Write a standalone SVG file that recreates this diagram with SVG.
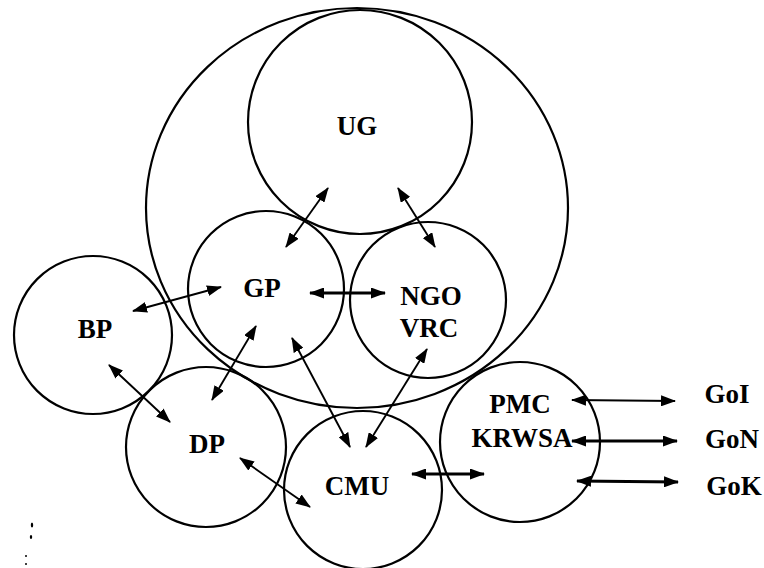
<svg xmlns="http://www.w3.org/2000/svg" width="764" height="568" viewBox="0 0 764 568">
<style>
.c{fill:none;stroke:#000;stroke-width:2.2}
.t{font-family:'Liberation Serif','Times New Roman',serif;font-weight:bold;font-size:27px;fill:#000;text-anchor:middle}
.a{stroke:#000;stroke-width:1.9;fill:none;marker-start:url(#ah);marker-end:url(#ah)}
.k{stroke-width:3}
</style>
<defs>
<marker id="ah" viewBox="0 0 15 11" refX="14" refY="5.5" markerWidth="15" markerHeight="11" markerUnits="userSpaceOnUse" orient="auto-start-reverse">
<path d="M0,0 L15,5.5 L0,11 z" fill="#000"/>
</marker>
</defs>
<rect width="764" height="568" fill="#fff"/>
<g id="outer"><ellipse class="c" cx="357" cy="208" rx="211" ry="200"/></g>
<g id="UG"><circle class="c" cx="360" cy="122" r="112"/><text class="t" x="357" y="135">UG</text></g>
<g id="GP"><circle class="c" cx="266" cy="289" r="78"/><text class="t" x="262" y="297">GP</text></g>
<g id="NGO"><circle class="c" cx="428" cy="300" r="78"/><text class="t" x="431" y="305">NGO</text><text class="t" x="429" y="337">VRC</text></g>
<g id="BP"><circle class="c" cx="93" cy="335" r="79"/><text class="t" x="95" y="338">BP</text></g>
<g id="DP"><circle class="c" cx="206" cy="447" r="80"/><text class="t" x="207" y="453">DP</text></g>
<g id="CMU"><circle class="c" cx="363" cy="490" r="79"/><text class="t" x="357" y="495">CMU</text></g>
<g id="PMC"><circle class="c" cx="520" cy="442" r="80"/><text class="t" x="520" y="413">PMC</text><text class="t" x="522" y="447">KRWSA</text></g>
<g id="GoI"><text class="t" x="727" y="403">GoI</text></g>
<g id="GoN"><text class="t" x="732" y="448">GoN</text></g>
<g id="GoK"><text class="t" x="734" y="495">GoK</text></g>
<g id="connectors">
<line class="a" x1="328" y1="188" x2="286" y2="247"/>
<line class="a" x1="398" y1="188" x2="435" y2="247"/>
<line class="a k" x1="310" y1="293" x2="385" y2="293"/>
<line class="a" x1="133" y1="311" x2="221" y2="287"/>
<line class="a" x1="256" y1="326" x2="212" y2="400"/>
<line class="a" x1="109" y1="365" x2="170" y2="422"/>
<line class="a" x1="292" y1="338" x2="350" y2="447"/>
<line class="a" x1="427" y1="349" x2="366" y2="447"/>
<line class="a" x1="240" y1="458" x2="310" y2="507"/>
<line class="a k" x1="412" y1="474" x2="484" y2="474"/>
<line class="a" x1="572" y1="400" x2="675" y2="401"/>
<line class="a k" x1="572" y1="441" x2="677" y2="441"/>
<line class="a k" x1="577" y1="481" x2="678" y2="482"/>
</g>
<g id="specks" fill="#000">
<ellipse cx="32" cy="525" rx="1.2" ry="2.5"/>
<ellipse cx="31" cy="537" rx="1.2" ry="2"/>
<circle cx="26" cy="556" r="1"/>
<circle cx="26" cy="564" r="1"/>
</g>
</svg>
